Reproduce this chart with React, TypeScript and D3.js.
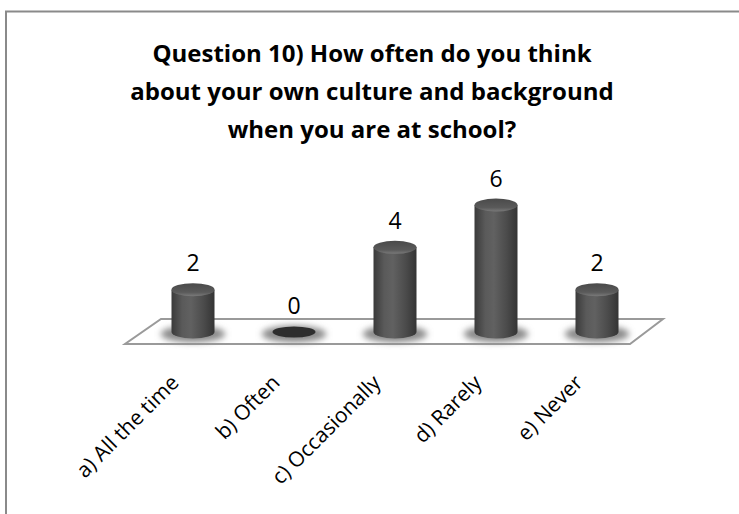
import React from "react";
import * as d3 from "d3";

const categories = ["a) All the time", "b) Often", "c) Occasionally", "d) Rarely", "e) Never"];
const values = [2, 0, 4, 6, 2];
const titleLines = [
  "Question 10) How often do you think",
  "about your own culture and background",
  "when you are at school?",
];

const W = 739;
const H = 514;

export default function App() {
  const x = d3.scalePoint<string>().domain(categories).range([193, 597]);
  const y = d3.scaleLinear().domain([0, 6]).range([332, 205]);
  const rx = 21.5;
  const ry = 6.5;
  const base = y(0);
  const floorBack = 319;
  const floorFront = 344;
  const floor = [
    [161, floorBack],
    [663, floorBack],
    [630, floorFront],
    [125, floorFront],
  ];
  const font = "'Open Sans', 'Noto Sans', sans-serif";

  return (
    <svg
      width={W}
      height={H}
      style={{ position: "absolute", left: 0, top: 0, background: "#fff" }}
      fontFamily={font}
    >
      <defs>
        <linearGradient id="body" x1="0" x2="1" y1="0" y2="0">
          <stop offset="0%" stopColor="#3a3a3a" />
          <stop offset="25%" stopColor="#5a5a5a" />
          <stop offset="45%" stopColor="#616161" />
          <stop offset="75%" stopColor="#4b4b4b" />
          <stop offset="100%" stopColor="#343434" />
        </linearGradient>
        <linearGradient id="top" x1="0" x2="0" y1="0" y2="1">
          <stop offset="0%" stopColor="#4a4a4a" />
          <stop offset="70%" stopColor="#5a5a5a" />
          <stop offset="100%" stopColor="#7a7a7a" />
        </linearGradient>
        <filter id="blur" x="-50%" y="-100%" width="200%" height="300%">
          <feGaussianBlur stdDeviation="3" />
        </filter>
      </defs>
      <rect x={6} y={11.5} width={W + 10} height={H + 10} fill="#fff" stroke="#8a8a8a" strokeWidth={2} />
      {titleLines.map((t, i) => (
        <text
          key={i}
          x={372}
          y={62 + i * 38}
          textAnchor="middle"
          fontWeight="bold"
          fontSize={24}
          fill="#000"
        >
          {t}
        </text>
      ))}
      <polygon
        points={floor.map((p) => p.join(",")).join(" ")}
        fill="#fff"
        stroke="#9a9a9a"
        strokeWidth={2}
      />
      {categories.map((c, i) => {
        const cx = x(c)!;
        const v = values[i];
        const yt = y(v);
        return (
          <g key={c}>
            <ellipse cx={cx} cy={base + 2} rx={rx * 1.5} ry={ry * 1.3} fill="#8a8a8a" filter="url(#blur)" />
            {v > 0 ? (
              <>
                <path
                  d={`M${cx - rx},${yt} L${cx - rx},${base} A${rx},${ry} 0 0 0 ${cx + rx},${base} L${cx + rx},${yt} Z`}
                  fill="url(#body)"
                />
                <ellipse cx={cx} cy={yt} rx={rx} ry={ry} fill="url(#top)" />
              </>
            ) : (
              <ellipse cx={cx} cy={base} rx={rx} ry={ry - 1} fill="#2e2e2e" />
            )}
            <text x={cx} y={yt - ry - 12} textAnchor="middle" fontSize={23} fill="#000">
              {v}
            </text>
            <text
              transform={`translate(${cx - 13},${384}) rotate(-45)`}
              textAnchor="end"
              fontSize={21}
              fill="#000"
            >
              {c}
            </text>
          </g>
        );
      })}
    </svg>
  );
}
